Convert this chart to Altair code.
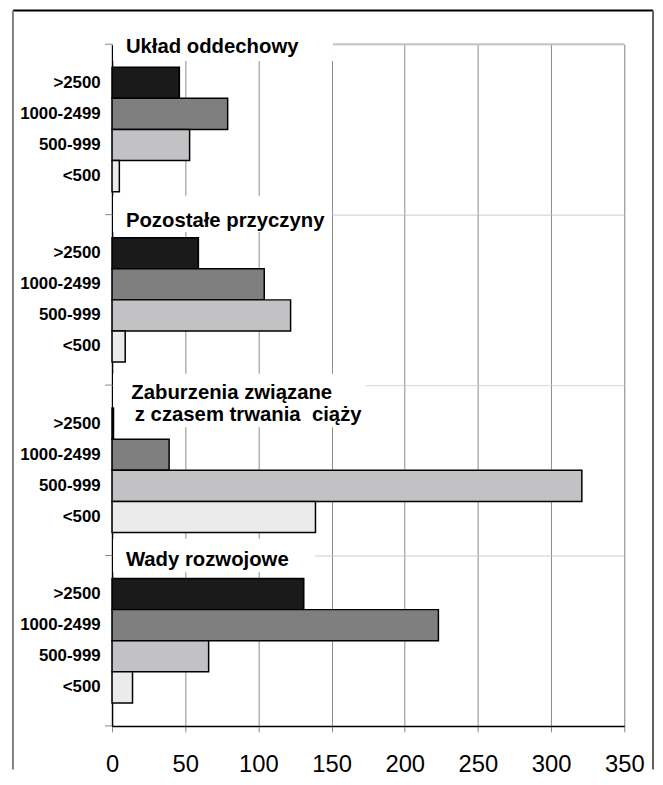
import altair as alt
import pandas as pd

# ---- data ----
categories = [">2500", "1000-2499", "500-999", "<500"]
group_titles = [
    ["Układ oddechowy"],
    ["Pozostałe przyczyny"],
    ["Zaburzenia związane", "z czasem trwania\u00a0 ciąży"],
    ["Wady rozwojowe"],
]
values_uklad_oddechowy = [46, 79, 53, 5]
values_pozostale = [59, 104, 122, 9]
values_zaburzenia = [1, 39, 321, 139]
values_wady = [131, 223, 66, 14]
x_ticks = [0, 50, 100, 150, 200, 250, 300, 350]

group_values = [values_uklad_oddechowy, values_pozostale, values_zaburzenia, values_wady]

# ---- styling / layout ----
bar_colors = ["#1a1a1a", "#7f7f7f", "#c2c2c4", "#ebebeb"]
FONT = "Liberation Sans"
W = 517
H = 172
title_pos = [
    [(14, 9)],
    [(14, 12.5)],
    [(19.5, 14.5), (23, 36.5)],
    [(14, 11)],
]
box_pos = [(223, -6, 17), (222, -19, 17.5), (256, -11.5, 42.5), (205, -17, 17)]

xscale = alt.Scale(domain=[0, 350], nice=False, zero=True)
yscale = alt.Scale(paddingInner=0, paddingOuter=0.74)
cscale = alt.Scale(domain=categories, range=bar_colors)

y_axis = alt.Axis(title=None, ticks=False, labelFontSize=17, labelFontWeight="bold",
                  labelFont=FONT, labelColor="black", labelPadding=12,
                  domainColor="black", domainWidth=1.5, grid=False)


def panel(i):
    last = i == 3
    df = pd.DataFrame({"cat": categories, "value": group_values[i]})
    if last:
        x_axis = alt.Axis(title=None, values=x_ticks, labelFontSize=24, labelFont=FONT,
                          labelColor="black", labelPadding=21, labelFlush=False, tickSize=6,
                          tickColor="#888888", domainColor="black", domainWidth=1.5,
                          grid=True, gridColor="#8c8c8c", gridWidth=1)
    else:
        x_axis = alt.Axis(title=None, values=x_ticks, labels=False, ticks=False,
                          domain=False, grid=True, gridColor="#8c8c8c", gridWidth=1)

    bars = alt.Chart(df).mark_bar(stroke="black", strokeWidth=1.5).encode(
        x=alt.X("value:Q", scale=xscale, axis=x_axis),
        y=alt.Y("cat:N", sort=categories, scale=yscale, axis=y_axis),
        color=alt.Color("cat:N", scale=cscale, legend=None),
    )

    tdf = pd.DataFrame({"t": ["\n".join(group_titles[i])]})
    bx2, by, by2 = box_pos[i]
    layers = []

    layers.append(alt.Chart(tdf).mark_rule(color="#888888", strokeWidth=1).encode(
        x=alt.value(-7), x2=alt.value(0), y=alt.value(0)))
    if last:
        layers.append(alt.Chart(tdf).mark_rule(color="#888888", strokeWidth=1).encode(
            x=alt.value(-7), x2=alt.value(0), y=alt.value(H)))

    if i == 0:
        layers.append(alt.Chart(tdf).mark_rule(color="#c4c4c4", strokeWidth=2).encode(
            x=alt.value(0), x2=alt.value(W), y=alt.value(0)))
        layers.append(alt.Chart(tdf).mark_rule(color="black", strokeWidth=2).encode(
            x=alt.value(-100), x2=alt.value(546), y=alt.value(-34)))
        layers.append(alt.Chart(tdf).mark_rule(color="#808080", strokeWidth=2).encode(
            x=alt.value(-100), y=alt.value(-34), y2=alt.value(732)))
        layers.append(alt.Chart(tdf).mark_rule(color="#606060", strokeWidth=2).encode(
            x=alt.value(546), y=alt.value(-34), y2=alt.value(732)))

    layers.append(alt.Chart(tdf).mark_rect(color="white").encode(
        x=alt.value(1), x2=alt.value(bx2), y=alt.value(by), y2=alt.value(by2)))
    layers.append(bars)

    for line, (tx, ty) in zip(group_titles[i], title_pos[i]):
        ldf = pd.DataFrame({"t": [line]})
        layers.append(alt.Chart(ldf).mark_text(
            align="left", baseline="alphabetic", fontSize=20.5, fontWeight="bold",
            font=FONT, color="black").encode(
            x=alt.value(tx), y=alt.value(ty), text="t:N"))

    return alt.layer(*layers).properties(width=W, height=H)


chart = alt.vconcat(*[panel(i) for i in range(4)], spacing=0, bounds="flush").properties(
    padding={"left": 3, "top": -3, "right": 0, "bottom": 0},
    background="white",
).configure_view(stroke=None).configure(font=FONT)

chart.save("out.html", embed_options={"renderer": "svg", "actions": False})
